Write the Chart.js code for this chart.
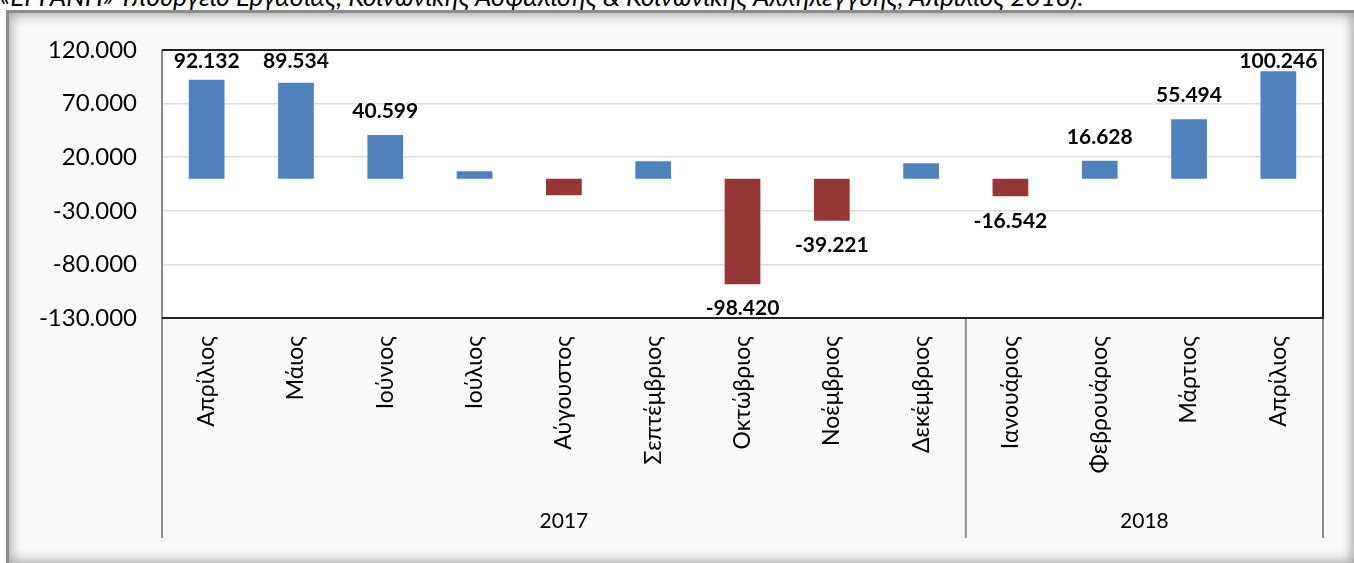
<!DOCTYPE html>
<html>
<head>
<meta charset="utf-8">
<script src="https://cdn.jsdelivr.net/npm/chart.js@4.4.1/dist/chart.umd.min.js"></script>
<style>
  html, body { margin: 0; padding: 0; background: #fff; width: 1354px; height: 563px; overflow: hidden; }
  #cap { position: absolute; left: 0; top: -17px; font: italic 26px/26px Lato, sans-serif; white-space: nowrap; color: #000; }
  #frame { position: absolute; left: 6px; top: 10px; width: 1345px; height: 550px; border: 3px solid #8c8c8c;
    background: #fafafa; box-shadow: inset 0 0 12px 2px rgba(0,0,0,0.35); }
  #wrap { position: absolute; left: 0; top: 0; width: 1354px; height: 563px; }
</style>
</head>
<body>
<div id="cap">«ΕΡΓΑΝΗ» Υπουργείο Εργασίας, Κοινωνικής Ασφάλισης &amp; Κοινωνικής Αλληλεγγύης, Απρίλιος 2018).</div>
<div id="frame"></div>
<div id="wrap"><canvas id="balance"></canvas></div>
<script>
  // Monthly balance of hirings/departures, April 2017 - April 2018
  const months = ['Απρίλιος', 'Μάιος', 'Ιούνιος', 'Ιούλιος', 'Αύγουστος', 'Σεπτέμβριος', 'Οκτώβριος',
    'Νοέμβριος', 'Δεκέμβριος', 'Ιανουάριος', 'Φεβρουάριος', 'Μάρτιος', 'Απρίλιος'];
  const years = ['2017', '2018'];
  const yearCounts = [9, 4];
  const balance = [92132, 89534, 40599, 6900, -15600, 16200, -98420, -39221, 14400, -16542, 16628, 55494, 100246];
  const labelled = [true, true, true, false, false, false, true, true, false, true, true, true, true];
  const yTicks = [-130000, -80000, -30000, 20000, 70000, 120000];

  const FONT = 'Lato, "Open Sans", sans-serif';

  function fmt(v) {
    let s = String(Math.abs(Math.round(v))).replace(/\B(?=(\d{3})+(?!\d))/g, '.');
    return (v < 0 ? '-' : '') + s;
  }

  // frame, group separators, year row and value labels
  const decor = {
    id: 'decor',
    beforeDraw(chart) {
      let a = chart.chartArea, ctx = chart.ctx;
      ctx.save();
      ctx.fillStyle = '#fff';
      ctx.fillRect(a.left, a.top, a.right - a.left, a.bottom - a.top);
      ctx.restore();
    },
    afterDatasetsDraw(chart) {
      let a = chart.chartArea, ctx = chart.ctx, x = chart.scales.x,
        step = x.getPixelForValue(1) - x.getPixelForValue(0),
        rowBottom = 538;
      ctx.save();
      // separators between year groups
      ctx.strokeStyle = '#8c8c8c';
      ctx.lineWidth = 2;
      let idx = 0, edges = [x.getPixelForValue(0) - step / 2];
      yearCounts.forEach(n => { idx += n; edges.push(x.getPixelForValue(idx - 1) + step / 2); });
      edges.forEach(px => {
        ctx.beginPath();
        ctx.moveTo(px, edges[0] === px ? a.top : a.bottom);
        ctx.lineTo(px, rowBottom);
        ctx.stroke();
      });
      // plot frame
      ctx.strokeStyle = '#222';
      ctx.beginPath();
      ctx.moveTo(a.left, a.top); ctx.lineTo(a.right, a.top);
      ctx.lineTo(a.right, a.bottom); ctx.lineTo(a.left, a.bottom);
      ctx.stroke();
      // year labels
      ctx.fillStyle = '#000';
      ctx.font = '21px ' + FONT;
      ctx.textAlign = 'center';
      ctx.textBaseline = 'middle';
      years.forEach((y, i) => ctx.fillText(y, (edges[i] + edges[i + 1]) / 2, 521));
      // value labels
      ctx.font = 'bold 21px ' + FONT;
      chart.getDatasetMeta(0).data.forEach((bar, i) => {
        if (!labelled[i]) return;
        let v = balance[i];
        if (v >= 0) {
          ctx.textBaseline = 'bottom';
          ctx.fillText(fmt(v), bar.x, Math.max(bar.y - 13, a.top + 22));
        } else {
          ctx.textBaseline = 'top';
          ctx.fillText(fmt(v), bar.x, bar.y + 14);
        }
      });
      ctx.restore();
    }
  };

  new Chart(document.getElementById('balance').getContext('2d'), {
    type: 'bar',
    data: {
      labels: months,
      datasets: [{
        data: balance,
        backgroundColor: balance.map(v => v >= 0 ? '#4f81bd' : '#953735'),
        categoryPercentage: 1,
        barPercentage: 0.4
      }]
    },
    options: {
      responsive: true,
      maintainAspectRatio: false,
      animation: false,
      layout: { padding: { top: 50, right: 31, left: 0, bottom: 0 } },
      plugins: { legend: { display: false }, tooltip: { enabled: false } },
      scales: {
        x: {
          afterFit: s => { s.height = 245; },
          grid: { display: false },
          border: { display: false },
          ticks: {
            autoSkip: false, minRotation: 90, maxRotation: 90, padding: 10,
            color: '#000', font: { family: FONT, size: 23 }
          }
        },
        y: {
          min: -130000,
          max: 120000,
          afterFit: s => { s.width = 162; },
          afterBuildTicks: s => { s.ticks = yTicks.map(v => ({ value: v })); },
          border: { display: false },
          grid: {
            drawTicks: false,
            color: c => c.tick && c.tick.value === 0 ? '#8c8c8c' : '#dedede',
            lineWidth: c => c.tick && c.tick.value === 0 ? 2.5 : 1.5
          },
          ticks: {
            padding: 25, color: '#000', font: { family: FONT, size: 24 },
            callback: v => fmt(v)
          }
        }
      }
    },
    plugins: [decor]
  });
</script>
</body>
</html>
